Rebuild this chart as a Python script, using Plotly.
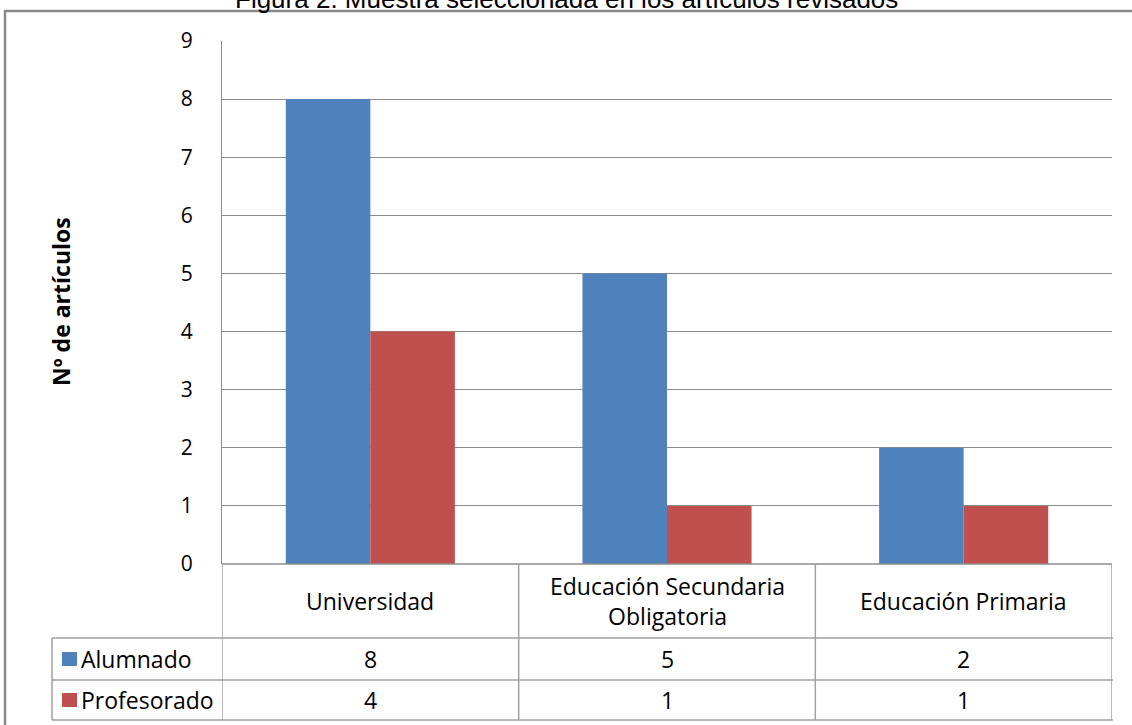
import plotly.graph_objects as go

categories = ["Universidad", "Educación Secundaria Obligatoria", "Educación Primaria"]
category_labels = ["Universidad", "Educación Secundaria<br>Obligatoria", "Educación Primaria"]
alumnado = [8, 5, 2]
profesorado = [4, 1, 1]
series_names = ["Alumnado", "Profesorado"]
series_colors = ["#4F81BD", "#C0504D"]
y_ticks = [0, 1, 2, 3, 4, 5, 6, 7, 8, 9]
title_text = "Figura 2. Muestra seleccionada en los artículos revisados"
y_title = "Nº de artículos"

W, H = 1132, 725
L, R, T, B = 222, 20, 41, 161
PW, PH = W - L - R, H - T - B

def px_x(px):
    return (px - L) / PW

def px_y(py):
    return (H - B - py) / PH

FONT = "Open Sans, sans-serif"
GRID = "#8c8c8c"
LINE = "#a0a0a0"

xs = list(range(len(categories)))
fig = go.Figure()
for name, vals, col in zip(series_names, [alumnado, profesorado], series_colors):
    fig.add_trace(go.Bar(x=xs, y=vals, name=name, marker=dict(color=col, line=dict(width=0))))

fig.update_layout(
    width=W, height=H,
    margin=dict(l=L, r=R, t=T, b=B),
    paper_bgcolor="white", plot_bgcolor="white",
    barmode="group", bargap=0.43, bargroupgap=0,
    showlegend=False,
    font=dict(family=FONT, size=22, color="#000000"),
)
fig.update_xaxes(range=[-0.5, len(categories) - 0.5], showticklabels=False, showgrid=False,
                 zeroline=False, showline=False, fixedrange=True)
fig.update_yaxes(range=[0, 9], tickvals=y_ticks, showgrid=True, gridcolor=GRID, gridwidth=1,
                 zeroline=False, showline=True, linecolor=GRID, linewidth=1, ticks="",
                 ticklabelstandoff=24, tickfont=dict(family=FONT, size=21, color="#000"))

shapes = []
# outer frame
shapes.append(dict(type="rect", xref="paper", yref="paper", x0=px_x(5), x1=px_x(1160),
                   y0=px_y(760), y1=px_y(11), line=dict(color="#8a8a8a", width=2.5)))
# table horizontal lines
row_lines = [564, 638, 680, 720]
for i, py in enumerate(row_lines):
    if i == 0:
        shapes.append(dict(type="line", xref="x", yref="paper", x0=-0.5, x1=len(categories) - 0.5,
                           y0=px_y(py), y1=px_y(py), line=dict(color=GRID, width=1.5)))
    else:
        shapes.append(dict(type="line", xref="paper", yref="paper", x0=px_x(52), x1=px_x(1113),
                           y0=px_y(py), y1=px_y(py), line=dict(color=LINE, width=1.5)))
# table vertical lines at category boundaries
for k in range(len(categories) + 1):
    shapes.append(dict(type="line", xref="x", yref="paper", x0=k - 0.5, x1=k - 0.5,
                       y0=px_y(720), y1=px_y(564), line=dict(color=LINE, width=1.5)))
shapes.append(dict(type="line", xref="paper", yref="paper", x0=px_x(52), x1=px_x(52),
                   y0=px_y(720), y1=px_y(638), line=dict(color=LINE, width=1.5)))
# legend keys
for j, col in enumerate(series_colors):
    cy = [659, 700][j]
    shapes.append(dict(type="rect", xref="paper", yref="paper", x0=px_x(62), x1=px_x(77),
                       y0=px_y(cy + 7), y1=px_y(cy - 7), fillcolor=col, line=dict(width=0)))

annotations = []
annotations.append(dict(text=title_text, xref="paper", yref="paper", x=px_x(566), y=px_y(-1),
                        showarrow=False, xanchor="center", yanchor="middle",
                        font=dict(family="Liberation Sans, Arial", size=26, color="#000")))
annotations.append(dict(text="<b>" + y_title + "</b>", xref="paper", yref="paper", x=px_x(61),
                        y=px_y(302), textangle=-90, showarrow=False, xanchor="center",
                        yanchor="middle", font=dict(family=FONT, size=23)))
for x, lab in zip(xs, category_labels):
    annotations.append(dict(text=lab, xref="x", yref="paper", x=x, y=px_y(601), showarrow=False,
                            xanchor="center", yanchor="middle", font=dict(family=FONT, size=23)))
for j, (name, vals) in enumerate(zip(series_names, [alumnado, profesorado])):
    cy = [659, 700][j]
    annotations.append(dict(text=name, xref="paper", yref="paper", x=px_x(79), y=px_y(cy),
                            showarrow=False, xanchor="left", yanchor="middle",
                            font=dict(family=FONT, size=23)))
    for x, v in zip(xs, vals):
        annotations.append(dict(text=str(v), xref="x", yref="paper", x=x, y=px_y(cy),
                                showarrow=False, xanchor="center", yanchor="middle",
                                font=dict(family=FONT, size=23)))

fig.update_layout(shapes=shapes, annotations=annotations)
fig.write_html("out.html", config={"displayModeBar": False},
               post_script="document.body.style.margin='0px';")
